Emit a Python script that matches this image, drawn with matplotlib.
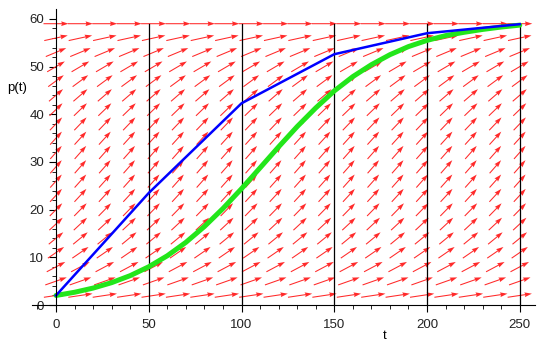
import numpy as np
import matplotlib
matplotlib.use("Agg")
import matplotlib.pyplot as plt

plt.rcParams['font.family'] = ['Liberation Sans', 'DejaVu Sans']

# direction field grid (20 x 20) and slope dp/dt of each row
grid_t = np.linspace(0, 250, 20)
grid_p = [2, 5, 8, 11, 14, 17, 20, 23, 26, 29, 32, 35, 38, 41, 44, 47, 50, 53, 56, 59]
row_slope = [0.058, 0.137, 0.207, 0.268, 0.320, 0.363, 0.397, 0.421, 0.436, 0.442,
             0.439, 0.427, 0.406, 0.375, 0.336, 0.287, 0.229, 0.162, 0.085, 0.0]

# Euler approximation (blue), step 50
euler_t = [0, 50, 100, 150, 200, 250]
euler_p = [2, 23.5, 42.3, 52.6, 57.0, 58.9]

# solution curve (green)
sol_t = [0, 10, 20, 30, 40, 50, 60, 70, 80, 90, 100, 110, 120, 130, 140, 150,
         160, 170, 180, 190, 200, 210, 220, 230, 240, 250]
sol_p = [2.0, 2.67, 3.55, 4.69, 6.16, 8.02, 10.33, 13.14, 16.46, 20.24, 24.39,
         28.77, 33.17, 37.42, 41.33, 44.9, 47.9, 50.4, 52.5, 54.2, 55.5,
         56.5, 57.2, 57.8, 58.3, 58.7]

fig = plt.figure(figsize=(5.39, 3.41), dpi=100)
ax = fig.add_axes([31.9 / 539, 36 / 341, (534.6 - 31.9) / 539, 295.6 / 341])
ax.set_xlim(-13, 258)
ax.set_ylim(0, 62)

# arrows: fixed length in axis-fraction space
T, P = np.meshgrid(grid_t, grid_p)
S = np.repeat(np.array(row_slope)[:, None], len(grid_t), axis=1)
a = 1 / 250.0
b = S / 57.0
n = np.hypot(a, b)
L = 0.054
U = L * a / n * 250
V = L * b / n * 57
ax.quiver(T, P, U, V, angles='xy', scale_units='xy', scale=1, pivot='mid',
          color='#ff2a2a', width=0.0021, headwidth=4.5, headlength=7,
          headaxislength=6.3, zorder=2)

for tv in [50, 100, 150, 200, 250]:
    ax.plot([tv, tv], [0, 59], color='black', lw=0.9, zorder=3)

ax.plot(sol_t, sol_p, color='#22e61a', lw=3.6, solid_capstyle='round', zorder=4)
ax.plot(euler_t, euler_p, color='#0000ff', lw=1.8, zorder=5)

for s in ['top', 'right']:
    ax.spines[s].set_visible(False)
ax.spines['left'].set_position(('data', 0))
ax.spines['bottom'].set_position(('data', 0))
ax.spines['left'].set_zorder(6)
ax.patch.set_visible(False)

ax.set_xticks([0, 50, 100, 150, 200, 250])
ax.set_xticks(np.arange(-10, 251, 10), minor=True)
ax.set_yticks([0, 10, 20, 30, 40, 50, 60])
ax.set_yticks(np.arange(0, 62, 2), minor=True)
ax.tick_params(axis='both', which='major', length=5, labelsize=9.5, direction='out',
               labelcolor='#222222')
ax.tick_params(axis='both', which='minor', length=3, direction='out')
ax.tick_params(axis='x', pad=5)

ax.text(177, -6.6, 't', ha='center', va='center', fontsize=9.5)
ax.text(-21, 45.6, 'p(t)', ha='center', va='center', fontsize=9.5)

fig.savefig('out.png', dpi=100)
